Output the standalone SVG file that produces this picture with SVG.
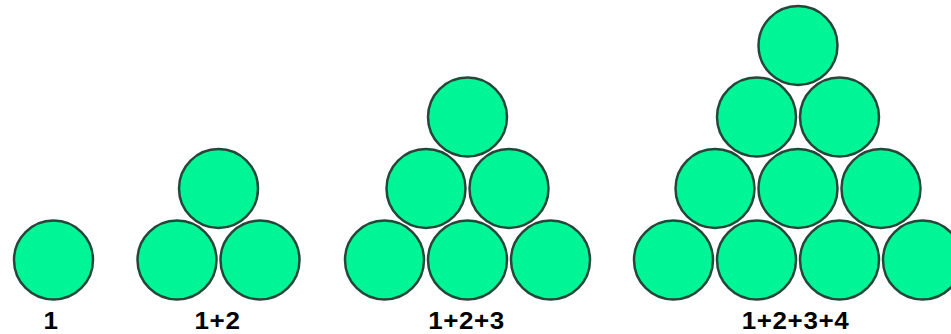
<svg xmlns="http://www.w3.org/2000/svg" width="951" height="334" viewBox="0 0 951 334">
<style>
.b{fill:#00F596;stroke:#24473A;stroke-width:2.5}
.t{font-family:"Liberation Sans",Arial,sans-serif;font-weight:bold;font-size:26px;fill:#000;text-anchor:middle;letter-spacing:0.6px}
</style>
<rect width="951" height="334" fill="#fff"/>
<g id="n1">
<circle class="b" cx="53.5" cy="260" r="39.5"/>
<text class="t" transform="translate(51,329) scale(1,0.9)">1</text>
</g>
<g id="n2">
<circle class="b" cx="218.5" cy="188.5" r="39.5"/>
<circle class="b" cx="177" cy="260" r="39.5"/>
<circle class="b" cx="260" cy="260" r="39.5"/>
<text class="t" transform="translate(217.5,329) scale(1,0.9)">1+2</text>
</g>
<g id="n3">
<circle class="b" cx="467.5" cy="117" r="39.5"/>
<circle class="b" cx="426" cy="188.5" r="39.5"/>
<circle class="b" cx="509" cy="188.5" r="39.5"/>
<circle class="b" cx="384.5" cy="260" r="39.5"/>
<circle class="b" cx="467.5" cy="260" r="39.5"/>
<circle class="b" cx="550.5" cy="260" r="39.5"/>
<text class="t" transform="translate(466.5,329) scale(1,0.9)">1+2+3</text>
</g>
<g id="n4">
<circle class="b" cx="798" cy="45.5" r="39.5"/>
<circle class="b" cx="756.5" cy="117" r="39.5"/>
<circle class="b" cx="839.5" cy="117" r="39.5"/>
<circle class="b" cx="715" cy="188.5" r="39.5"/>
<circle class="b" cx="798" cy="188.5" r="39.5"/>
<circle class="b" cx="881" cy="188.5" r="39.5"/>
<circle class="b" cx="673.5" cy="260" r="39.5"/>
<circle class="b" cx="756.5" cy="260" r="39.5"/>
<circle class="b" cx="839.5" cy="260" r="39.5"/>
<circle class="b" cx="922.5" cy="260" r="39.5"/>
<text class="t" transform="translate(795.5,329) scale(1,0.9)">1+2+3+4</text>
</g>
<g id="connectors"/>
</svg>
